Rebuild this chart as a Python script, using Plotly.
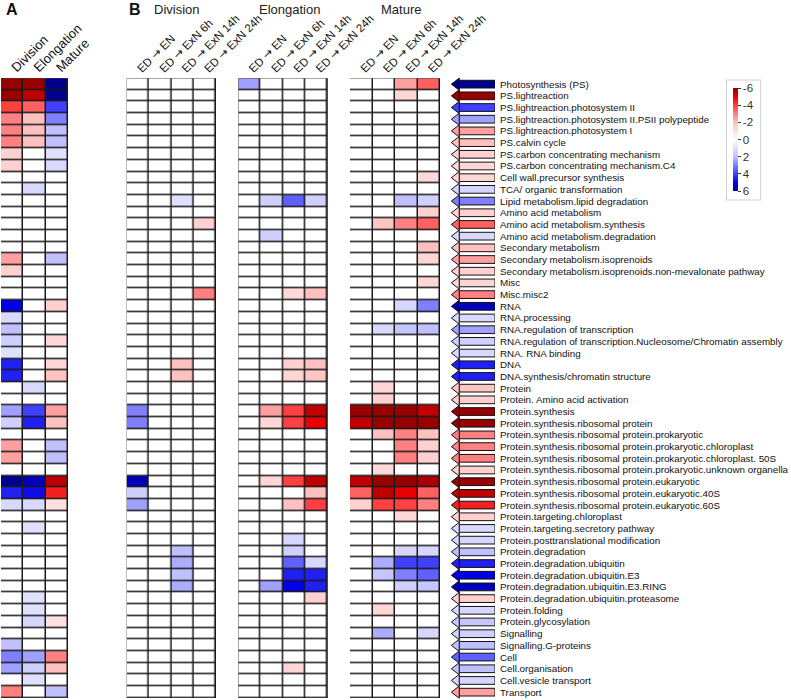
import plotly.graph_objects as go

# 経路名（行）
pathways = [
    "Photosynthesis (PS)", "PS.lightreaction", "PS.lightreaction.photosystem II",
    "PS.lightreaction.photosystem II.PSII polypeptide", "PS.lightreaction.photosystem I",
    "PS.calvin cycle", "PS.carbon concentrating mechanism", "PS.carbon concentrating mechanism.C4",
    "Cell wall.precursor synthesis", "TCA/ organic transformation",
    "Lipid metabolism.lipid degradation", "Amino acid metabolism", "Amino acid metabolism.synthesis",
    "Amino acid metabolism.degradation", "Secondary metabolism", "Secondary metabolism.isoprenoids",
    "Secondary metabolism.isoprenoids.non-mevalonate pathway", "Misc", "Misc.misc2", "RNA",
    "RNA.processing", "RNA.regulation of transcription",
    "RNA.regulation of transcription.Nucleosome/Chromatin assembly", "RNA. RNA binding", "DNA",
    "DNA.synthesis/chromatin structure", "Protein", "Protein. Amino acid activation",
    "Protein.synthesis", "Protein.synthesis.ribosomal protein",
    "Protein.synthesis.ribosomal protein.prokaryotic",
    "Protein.synthesis.ribosomal protein.prokaryotic.chloroplast",
    "Protein.synthesis.ribosomal protein.prokaryotic.chloroplast. 50S",
    "Protein.synthesis.ribosomal protein.prokaryotic.unknown organella",
    "Protein.synthesis.ribosomal protein.eukaryotic",
    "Protein.synthesis.ribosomal protein.eukaryotic.40S",
    "Protein.synthesis.ribosomal protein.eukaryotic.60S", "Protein.targeting.chloroplast",
    "Protein.targeting.secretory pathway", "Protein.posttranslational modification",
    "Protein.degradation", "Protein.degradation.ubiquitin", "Protein.degradation.ubiquitin.E3",
    "Protein.degradation.ubiquitin.E3.RING", "Protein.degradation.ubiquitin.proteasome",
    "Protein.folding", "Protein.glycosylation", "Signalling", "Signalling.G-proteins", "Cell",
    "Cell.organisation", "Cell.vesicle transport", "Transport",
]

zones = ["Division", "Elongation", "Mature"]
transitions = ["ED → EN", "ED → ExN 6h", "ED → ExN 14h", "ED → ExN 24h"]

# パネルA：Division / Elongation / Mature
panel_a = [
    [-6, -6, 6], [-6, -5.5, 6], [-4, -3.5, 4], [-3, -2, 3], [-3, -2, 2],
    [-3, -2, 2], [-1.5, 0, 1], [-1.5, 0, 1.2], [0, 0, 0], [0, 1.2, 0],
    [0, 0, 0], [0, 0, 0], [0, 0, 0], [0, 0, 0], [0, 0, 0],
    [-2.5, 0, 2], [-1.5, 0, 0], [0, 0, 0], [0, 0, 0], [5, 0, -1.5],
    [1.2, 0, 0], [2, 0, 0], [1.5, 0, -1.2], [1, 0, 0], [4.5, 0, -1.3],
    [4.5, 0, -2], [0, 1.2, 0], [0, 0, 0], [2.5, 4, -2.5], [1.5, 4.5, -2],
    [0, 0, 0], [-2.5, 0, 2], [-2.5, 0, 2], [0, 0, 0], [6, 5.5, -5.5],
    [4.5, 4.8, -4.5], [1.2, 1.2, -1], [0, 0, 0], [0, 1, 0], [0, 0, 0],
    [0, 0, 0], [0, 0, 0], [0, 0, 0], [0, 0, 0], [0, 1, 0],
    [0, 1, 0], [0, 1.3, -1], [0, 0, 0], [2, 0, 0], [3, 2.5, -3],
    [2.5, 1.5, -2], [0, 1, 0], [-3, 0, 2],
]

# パネルB：各ゾーンの遷移（ED→EN, 6h, 14h, 24h）
division = [
    [0, 0, 0, 0], [0, 0, 0, 0], [0, 0, 0, 0], [0, 0, 0, 0], [0, 0, 0, 0],
    [0, 0, 0, 0], [0, 0, 0, 0], [0, 0, 0, 0], [0, 0, 0, 0], [0, 0, 0, 0],
    [0, 0, 1, 0], [0, 0, 0, 0], [0, 0, 0, -1.5], [0, 0, 0, 0], [0, 0, 0, 0],
    [0, 0, 0, 0], [0, 0, 0, 0], [0, 0, 0, 0], [0, 0, 0, -3], [0, 0, 0, 0],
    [0, 0, 0, 0], [0, 0, 0, 0], [0, 0, 0, 0], [0, 0, 0, 0], [0, 0, -2, 0],
    [0, 0, -2, 0], [0, 0, 0, 0], [0, 0, 0, 0], [3, 0, 0, 0], [3, 0, 0, 0],
    [0, 0, 0, 0], [0, 0, 0, 0], [0, 0, 0, 0], [0, 0, 0, 0], [5.5, 0, 0, 0],
    [1.5, 0, 0, 0], [2.5, 0, 0, 0], [0, 0, 0, 0], [0, 0, 0, 0], [0, 0, 0, 0],
    [0, 0, 2, 0], [0, 0, 2.3, 0], [0, 0, 2, 0], [0, 0, 2.3, 0], [0, 0, 0, 0],
    [0, 0, 0, 0], [0, 0, 0, 0], [0, 0, 0, 0], [0, 0, 0, 0], [0, 0, 0, 0],
    [0, 0, 0, 0], [0, 0, 0, 0], [0, 0, 0, 0],
]

elongation = [
    [2.5, 0, 0, 0], [0, 0, 0, 0], [0, 0, 0, 0], [0, 0, 0, 0], [0, 0, 0, 0],
    [0, 0, 0, 0], [0, 0, 0, 0], [0, 0, 0, 0], [0, 0, 0, 0], [0, 0, 0, 0],
    [0, 1.5, 3.5, 1.5], [0, 0, 0, 0], [0, 0, 0, 0], [0, 1.5, 0, 0], [0, 0, 0, 0],
    [0, 0, 0, 0], [0, 0, 0, 0], [0, 0, 0, 0], [0, 0, -1.2, -2], [0, 0, 0, 0],
    [0, 0, 0, 0], [0, 0, 0, 0], [0, 0, 0, 0], [0, 0, 0, 0], [0, 0, -1.5, -2],
    [0, 0, -1.3, -1.8], [0, 0, 0, 0], [0, 0, 0, 0], [0, -2.5, -4, -5.5], [0, -1.3, -4, -5],
    [0, 0, 0, 0], [0, 0, 0, 0], [0, 0, 0, 0], [0, 0, 0, 0], [0, -1.3, -4, -5.5],
    [0, 0, 0, -2], [0, 0, -2, -4], [0, 0, 0, 0], [0, 0, 0, 0], [0, 0, 1.3, 0],
    [0, 0, 1.5, 0], [0, 0, 3.5, 1.2], [0, 0, 4.5, 4.5], [0, 2.5, 5, 4.5], [0, 0, 0, -1.5],
    [0, 0, 0, 0], [0, 0, 0, 0], [0, 0, 0, 0], [0, 0, 0, 0], [0, 0, 0, 0],
    [0, 0, -1.3, 0], [0, 0, 0, 0], [0, 0, 0, 0],
]

mature = [
    [0, 0, -2.5, -3.5], [0, 0, -1.3, 0], [0, 0, 0, 0], [0, 0, 0, 0], [0, 0, 0, 0],
    [0, 0, 0, 0], [0, 0, 0, 0], [0, 0, 0, 0], [0, 0, 0, -1.2], [0, 0, 0, 0],
    [0, 0, 2, 1.5], [0, 0, 0, -1.5], [0, -1.8, -3, -3.5], [0, 0, 0, 0], [0, 0, 0, -2],
    [0, 0, 0, -1.3], [0, 0, 0, 0], [0, 0, 0, -1.3], [0, 0, 0, 0], [0, 0, 1.3, 3],
    [0, 0, 0, 0], [0, 1.2, 1.8, 2], [0, 0, 0, 0], [0, 0, 0, 0], [0, 0, 0, 0],
    [0, 0, 0, 0], [0, -1.3, 0, 0], [0, -1.5, 0, 0], [-6, -6, -6, -5.5], [-5.5, -6, -6, -6],
    [0, -2, -3, -2], [0, 0, -3, -1.5], [0, 0, -3, -1.5], [0, -1.2, 0, 0], [-5.5, -6, -6, -5.8],
    [-3.5, -5.5, -5, -3.5], [-1.5, -4, -4, -3], [0, 0, -1.3, 0], [0, 0, 0, 0], [0, 0, 0, 0],
    [0, 0, 1.3, 1.3], [0, 2.3, 4, 4], [0, 1.8, 3, 3.5], [0, 0, 1.5, 1.8], [0, 0, 0, 0],
    [0, -1.3, 0, 0], [0, 0, 0, 0], [0, 2.3, 0, 1.3], [0, 0, 0, 0], [0, 0, 0, 0],
    [0, 0, 0, 0], [0, 0, 0, 0], [0, 0, 0, 0],
]

# 右側の矢印の色
arrow_values = [
    6, -6, 4, 2.5, -2.5, -2, -1.5, -1.3, -1.3, 1.3,
    3, -1.5, -3.5, 1.2, -2, -2.5, -1.5, -1.3, -3, 5.5,
    1.2, 2.5, 1.5, 1.2, 4.5, 4.5, -1.8, -1.5, -6, -6,
    -3, -3, -3, -1.5, -6, -5.5, -4.5, -1.5, 1.2, 1.3,
    2, 4.5, 5, 5.5, -1.5, 1.3, 1.8, 1.5, 2, 3.5,
    2, 1.3, -2.5,
]

W, H = 791, 700
FONT = "Liberation Sans"
rows = list(range(len(pathways)))


def flip(values):
    # カラーバーで -6 を上に置くため符号を反転して描画
    if isinstance(values[0], list):
        return [[-v for v in r] for r in values]
    return [-v for v in values]


def xdom(a, b):
    return [a / W, b / W]


def arrow_glyph(label):
    # 矢印記号だけ字形の大きいフォントで表示（前後の空白は詰まらないよう NBSP に）
    return label.replace(" → ", "\u00a0<span style='font-family:DejaVu Sans'>→</span>\u00a0")


fig = go.Figure()

panels = [
    ("x", panel_a, zones, (1, 68), 13),
    ("x2", division, [arrow_glyph(t) for t in transitions], (126.7, 216), 11.5),
    ("x3", elongation, [arrow_glyph(t) for t in transitions], (238.3, 327.7), 11.5),
    ("x4", mature, [arrow_glyph(t) for t in transitions], (350, 440), 11.5),
]

layout_axes = {}
for ax, data, cols, (left, right), fsize in panels:
    n = len(cols)
    fig.add_trace(go.Heatmap(
        z=flip(data), x=list(range(n)), y=rows,
        coloraxis="coloraxis", xgap=1.5, ygap=1.5,
        xaxis=ax, yaxis="y", hoverinfo="skip",
    ))
    fig.add_shape(
        type="rect", xref=ax, yref="y",
        x0=-0.5, x1=n - 0.5, y0=-0.5, y1=len(rows) - 0.5,
        fillcolor="#1a1a1a", line=dict(color="#1a1a1a", width=1), layer="below",
    )
    key = "xaxis" if ax == "x" else "xaxis" + ax[1:]
    layout_axes[key] = dict(
        domain=xdom(left, right), range=[-0.5, n - 0.5], anchor="y",
        side="top", tickvals=list(range(n)), ticktext=cols, tickangle=-45,
        tickfont=dict(size=fsize, family=FONT, color="#111"),
        showgrid=False, zeroline=False, ticks="", showline=False, automargin=False,
    )

# 矢印：軸＋三角マーカー
fig.add_trace(go.Bar(
    x=[36] * len(rows), base=8, y=rows, orientation="h", width=0.66,
    marker=dict(color=flip(arrow_values), coloraxis="coloraxis",
                line=dict(color="#111", width=1)),
    xaxis="x5", yaxis="y", hoverinfo="skip",
))
fig.add_trace(go.Scatter(
    x=[5.6] * len(rows), y=rows, mode="markers", cliponaxis=False,
    marker=dict(symbol="triangle-left", size=10.5, color=flip(arrow_values),
                coloraxis="coloraxis", line=dict(color="#111", width=1)),
    xaxis="x5", yaxis="y", hoverinfo="skip",
))
layout_axes["xaxis5"] = dict(domain=xdom(451, 495), range=[0, 44], anchor="y", visible=False)

colorscale = [
    [0.0, "#00008f"], [1 / 12, "#0000e6"], [2 / 12, "#4040ff"], [4 / 12, "#c0c0ff"],
    [0.5, "#ffffff"], [8 / 12, "#ffc0c0"], [10 / 12, "#ff4040"], [11 / 12, "#e60000"],
    [1.0, "#990000"],
]

fig.update_layout(
    width=W, height=H,
    margin=dict(l=0, r=0, t=0, b=0, autoexpand=False),
    paper_bgcolor="white", plot_bgcolor="white",
    showlegend=False,
    font=dict(family=FONT, color="#111"),
    yaxis=dict(
        domain=[2 / H, 1 - 78.3 / H], range=[len(rows) - 0.5, -0.5],
        anchor="x5", side="right", tickvals=rows, ticktext=pathways,
        tickfont=dict(size=9.8, family=FONT, color="#111"),
        ticks="", ticklabelstandoff=4, showgrid=False, zeroline=False, automargin=False,
    ),
    coloraxis=dict(
        colorscale=colorscale, cmin=-6, cmax=6,
        colorbar=dict(
            thickness=5, len=119 / H, lenmode="fraction",
            x=727 / W, xanchor="left", y=1 - 139.5 / H, yanchor="middle",
            xpad=6, ypad=8, bgcolor="white", bordercolor="#d0d0d0", borderwidth=1,
            outlinewidth=0, ticks="outside", ticklen=3, tickcolor="#333",
            tickvals=[6, 4, 2, 0, -2, -4, -6],
            ticktext=["-6", "-4", "-2", "0", "2", "4", "6"],
            tickfont=dict(size=11.5, family=FONT, color="#333"),
        ),
    ),
    **layout_axes,
)

# パネル記号とグループ見出し
for text, x in [("A", 4), ("B", 127)]:
    fig.add_annotation(text=f"<b>{text}</b>", x=x / W, y=1 - 10 / H, xref="paper", yref="paper",
                       xanchor="left", yanchor="middle", showarrow=False,
                       font=dict(size=16, family=FONT, color="#111"))
for text, (left, right) in zip(zones, [(126.7, 216), (238.3, 327.7), (350, 440)]):
    fig.add_annotation(text=text, x=(left + right) / 2 / W + 6 / W, y=1 - 10 / H,
                       xref="paper", yref="paper",
                       xanchor="center", yanchor="middle", showarrow=False,
                       font=dict(size=13, family=FONT, color="#222"))

# ページ本体の余白を消して図を左上に揃える
fig.write_html(
    "out.html",
    config={"displayModeBar": False},
    post_script="document.body.style.margin = '0';",
)
